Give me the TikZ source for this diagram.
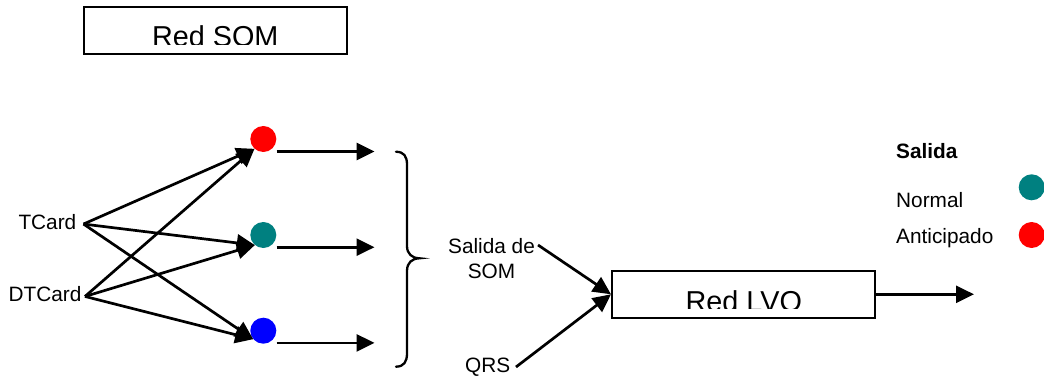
\documentclass[tikz,border=0pt]{standalone}
\usepackage{fontspec}
\setmainfont{Liberation Sans}
\usetikzlibrary{arrows.meta}
\definecolor{somred}{HTML}{FF0000}
\definecolor{somteal}{HTML}{008080}
\definecolor{somblue}{HTML}{0000FF}
\begin{document}
\begin{tikzpicture}[x=1pt,y=-1pt,
  conn/.style={line width=2.7pt, -{Triangle[length=18pt,width=17pt]}},
  dot/.style={circle, minimum size=26pt, inner sep=0pt},
  lbl/.style={font=\fontsize{20.8}{25}\selectfont, inner sep=0pt},
  inlbl/.style={lbl, text height=10.5pt, text depth=0pt, anchor=base east},
  netbox/.style={draw, line width=2pt, minimum width=263pt, minimum height=47pt, inner sep=0pt},
  big/.style={font=\fontsize{28.8}{34}\selectfont, inner sep=0pt, anchor=base},
  bracepath/.style={line width=2.3pt, line cap=round}
]
\useasboundingbox (0,0) rectangle (1044,377);

% Red SOM box
\node[netbox] (som) at (215.3,30.5) {};
\begin{scope}
  \clip (84,8) rectangle (346,44.8);
  \node[big] (somt) at (215.3,47) {Red SOM};
\end{scope}

% inputs
\node[inlbl, inner xsep=7pt] (tcard) at (83.5,229.3) {TCard};
\node[inlbl, inner xsep=3.3pt] (dtcard) at (85,301.7) {DTCard};

% neurons
\node[dot, fill=somred] (n1) at (263.3,139) {};
\node[dot, fill=somteal] (n2) at (263.3,235) {};
\node[dot, fill=somblue] (n3) at (263.3,330.7) {};

\draw[conn] (tcard.east) -- (n1.228);
\draw[conn] (tcard.east) -- (n2.230);
\draw[conn] (tcard.east) -- (n3.220);
\draw[conn] (dtcard.east) -- (n1.228);
\draw[conn] (dtcard.east) -- (n2.230);
\draw[conn] (dtcard.east) -- (n3.220);

\draw[conn] ([yshift=-12.5pt]n1.east) -- ++(98,0);
\draw[conn] ([yshift=-12.2pt]n2.east) -- ++(98,0);
\draw[conn] ([yshift=-12.2pt]n3.east) -- ++(98,0);

% brace
\draw[bracepath] (396,151.7) .. controls (404,152) and (407,156) .. (407,165)
  -- (407,246) .. controls (407,254) and (412,258) .. (419.3,258.3)
  .. controls (412,258.6) and (407,262.5) .. (407,271)
  -- (407,353) .. controls (407,362) and (404,366.5) .. (396,366.7);

% Red LVO
\node[netbox] (lvo) at (743.5,294.3) {};
\begin{scope}
  \clip (612,271) rectangle (875,308.8);
  \node[big] (lvot) at (743.8,311.3) {Red LVO};
\end{scope}

\node[lbl, align=center, anchor=base] (sds) at (491.5,278) {Salida de\\SOM};
\node[lbl, anchor=base west] (qrs) at (465,372) {QRS};
\coordinate (sdsend) at (538,245);
\coordinate (qrsend) at (516,367);
\draw[conn] (sdsend) -- (lvo.west);
\draw[conn] (qrsend) -- (lvo.west);
\draw[conn] (lvo.east) -- ++(98,0);

% legend
\node[lbl, font=\fontsize{20.8}{25}\selectfont\bfseries, anchor=base west] (sal) at (896,158) {Salida};
\node[lbl, anchor=base west] (nor) at (896,207) {Normal};
\node[lbl, anchor=base west] (ant) at (896,243) {Anticipado};
\node[dot, fill=somteal] (ln) at (1031.7,187.3) {};
\node[dot, fill=somred] (la) at (1031.7,235) {};
\end{tikzpicture}
\end{document}
